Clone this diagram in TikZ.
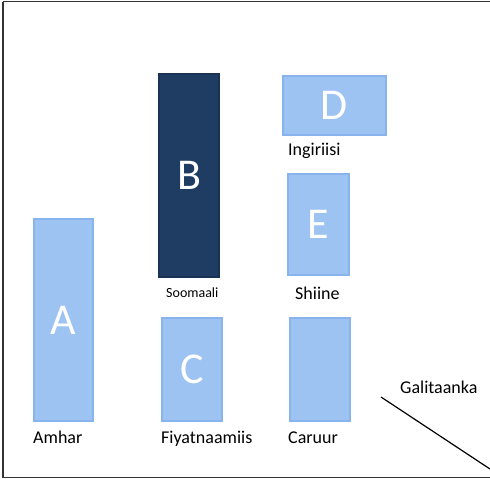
\documentclass[tikz,border=0pt]{standalone}
\usepackage{fontspec}
\setmainfont{Carlito}
\usetikzlibrary{positioning}
\definecolor{lightbar}{HTML}{9DC3F2}
\definecolor{lightedge}{HTML}{88B3EC}
\definecolor{darkbar}{HTML}{1F3C63}
\tikzset{
    bar/.style={draw=lightedge, line width=1.5pt, fill=lightbar, text=white, inner sep=0pt, font=\fontsize{44}{44}\selectfont},
    darkbox/.style={bar, draw=darkbar!85!black, fill=darkbar},
    lbl/.style={anchor=base west, inner sep=0pt, font=\fontsize{18}{18}\selectfont},
}
\begin{document}
\begin{tikzpicture}[x=1pt,y=-1pt]

	\useasboundingbox (0,0) rectangle (490,479);
	\draw[line width=1.2pt, black!80] (3,1.5) -- (3,477.5) -- (490,477.5);
	\draw[line width=1.2pt, black!80] (3,1.5) -- (490,1.5);

	% bars
	\node[bar, minimum width=59pt, minimum height=202pt] (a) at (63.5,320) {A};
	\node[darkbox, minimum width=60pt, minimum height=203pt] (b) at (189,175.5) {B};
	\node[bar, minimum width=60pt, minimum height=103pt] (c) at (192,369.5) {C};
	\node[bar, minimum width=103pt, minimum height=59pt] (d) at (334.5,105.5) {D};
	\node[bar, minimum width=61pt, minimum height=101pt] (e) at (318.5,224.5) {E};
	\node[bar, minimum width=60pt, minimum height=103pt] (f) at (320,369.5) {};

	% labels
	\node[lbl] (amhar) at (33,443) {Amhar};
	\node[lbl] (fiyat) at (161,443) {Fiyatnaamiis};
	\node[lbl] (caruur) at (288,443) {Caruur};
	\node[lbl, font=\fontsize{14}{14}\selectfont] (soom) at (166,297) {Soomaali};
	\node[lbl] (shiine) at (295,299) {Shiine};
	\node[lbl] (ingir) at (288,155) {Ingiriisi};
	\node[lbl] (gali) at (400,393) {Galitaanka};

	\coordinate (p) at (381,397);
	\coordinate (q) at (490,469);
	\draw[line width=1.2pt] (p) -- (q);

\end{tikzpicture}
\end{document}
